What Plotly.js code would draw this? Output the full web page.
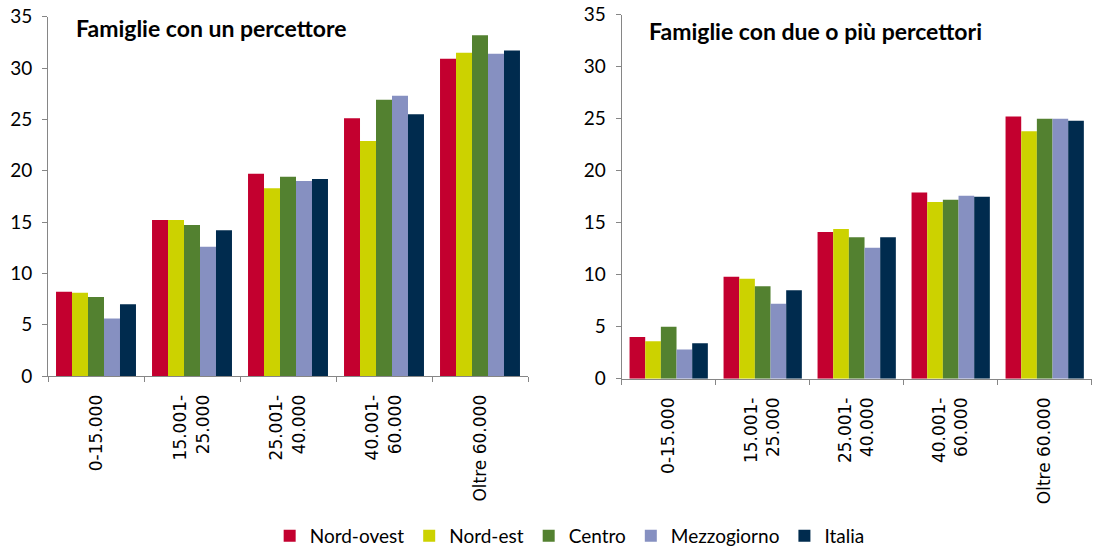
<!DOCTYPE html>
<html>
<head>
<meta charset="utf-8">
<script src="https://cdn.plot.ly/plotly-3.0.1.min.js"></script>
<style>html,body{margin:0;padding:0;background:#fff;}#chart{width:1104px;height:555px;}</style>
</head>
<body>
<div id="chart"></div>
<script>
// Categories (income classes)
const categories = ["0-15.000", "15.001-<br>25.000", "25.001-<br>40.000", "40.001-<br>60.000", "Oltre 60.000"];
const seriesNames = ["Nord-ovest", "Nord-est", "Centro", "Mezzogiorno", "Italia"];

// Famiglie con un percettore
const unoNO   = [8.2, 15.2, 19.7, 25.1, 30.9];
const unoNE   = [8.1, 15.2, 18.3, 22.9, 31.5];
const unoCE   = [7.7, 14.7, 19.4, 26.9, 33.2];
const unoMZ   = [5.6, 12.6, 19.0, 27.3, 31.4];
const unoIT   = [7.0, 14.2, 19.2, 25.5, 31.7];

// Famiglie con due o più percettori
const dueNO   = [4.0, 9.8, 14.1, 17.9, 25.2];
const dueNE   = [3.6, 9.6, 14.4, 17.0, 23.8];
const dueCE   = [5.0, 8.9, 13.6, 17.2, 25.0];
const dueMZ   = [2.8, 7.2, 12.6, 17.6, 25.0];
const dueIT   = [3.4, 8.5, 13.6, 17.5, 24.8];

const colors = ["#C3002F", "#CCD200", "#538130", "#8690C1", "#002B4E"];
const uno = [unoNO, unoNE, unoCE, unoMZ, unoIT];
const due = [dueNO, dueNE, dueCE, dueMZ, dueIT];

const font = "Lato, 'Open Sans', sans-serif";
const traces = [];
uno.forEach((vals, i) => traces.push({
  type: "bar", x: categories, y: vals, name: seriesNames[i],
  marker: {color: colors[i]}, xaxis: "x", yaxis: "y", showlegend: true
}));
due.forEach((vals, i) => traces.push({
  type: "bar", x: categories, y: vals, name: seriesNames[i],
  marker: {color: colors[i]}, xaxis: "x2", yaxis: "y2", showlegend: false
}));

const xCommon = {
  type: "category", showline: true, linecolor: "#868686", linewidth: 1,
  ticks: "outside", ticklen: 5, tickcolor: "#868686", tickson: "boundaries",
  tickangle: -90, tickfont: {family: "'DejaVu Sans', sans-serif", size: 17, color: "#000"},
  ticklabelstandoff: 11, showgrid: false, zeroline: false, fixedrange: true, automargin: false
};
const yCommon = {
  range: [0, 35], dtick: 5, showline: true, linecolor: "#868686", linewidth: 1,
  ticks: "outside", ticklen: 5, tickcolor: "#868686", ticklabelstandoff: 6,
  tickfont: {family: font, size: 19, color: "#000"}, showgrid: false, zeroline: false,
  fixedrange: true, automargin: false
};

const layout = {
  width: 1104, height: 555,
  margin: {l: 0, r: 0, t: 0, b: 0},
  paper_bgcolor: "#fff", plot_bgcolor: "#fff",
  barmode: "group", bargap: 0.167, bargroupgap: 0,
  showlegend: true,
  legend: {orientation: "h", x: 0.516, xanchor: "center", y: 0.0, yanchor: "bottom",
           font: {family: font, size: 19, color: "#000"}, itemwidth: 30, traceorder: "normal"},
  xaxis: Object.assign({}, xCommon, {domain: [48/1104, 528/1104], anchor: "y"}),
  yaxis: Object.assign({}, yCommon, {domain: [(555-376)/555, (555-16.7)/555], anchor: "x"}),
  xaxis2: Object.assign({}, xCommon, {domain: [621.7/1104, 1091.7/1104], anchor: "y2"}),
  yaxis2: Object.assign({}, yCommon, {domain: [(555-378.7)/555, (555-14.7)/555], anchor: "x2"}),
  annotations: [
    {text: "<b>Famiglie con un percettore</b>", xref: "paper", yref: "paper",
     x: 74/1104, y: (555-28)/555, xanchor: "left", yanchor: "middle", showarrow: false,
     font: {family: font, size: 23, color: "#000"}},
    {text: "<b>Famiglie con due o più percettori</b>", xref: "paper", yref: "paper",
     x: 647/1104, y: (555-31)/555, xanchor: "left", yanchor: "middle", showarrow: false,
     font: {family: font, size: 23, color: "#000"}}
  ]
};

Plotly.newPlot("chart", traces, layout, {displayModeBar: false, staticPlot: true});
</script>
</body>
</html>
